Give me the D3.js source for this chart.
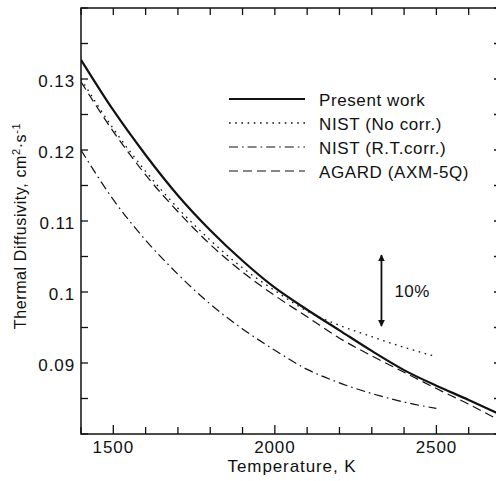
<!DOCTYPE html>
<html>
<head>
<meta charset="utf-8">
<script src="https://cdn.jsdelivr.net/npm/d3@7"></script>
<style>
	body { margin: 0; background: #fff; }
	text { font-family: "Liberation Sans", Arial, sans-serif; fill: #111; }
</style>
</head>
<body>
<svg id="chart" width="496" height="481"></svg>
<script>
'use strict';

// temperatures (K) shared by the curves
var temps = [1400, 1500, 1600, 1700, 1800, 1900, 2000, 2100, 2200, 2300, 2400, 2500, 2600, 2700];
var nistTemps = [1400, 1500, 1600, 1700, 1800, 1900, 2000, 2100, 2200, 2300, 2400, 2500];

// thermal diffusivity, cm2/s
var presentWork = [0.1327, 0.1256, 0.1193, 0.1136, 0.1087, 0.1044, 0.1006, 0.0975, 0.0946, 0.0917, 0.0890, 0.0868, 0.0848, 0.0827];
var agard       = [0.1296, 0.1226, 0.1165, 0.1113, 0.1067, 0.1028, 0.0995, 0.0965, 0.0935, 0.0910, 0.0887, 0.0864, 0.0842, 0.0818];
var nistNoCorr  = [0.1300, 0.1230, 0.1170, 0.1118, 0.1073, 0.1034, 0.1002, 0.0973, 0.0953, 0.0937, 0.0922, 0.0909];
var nistRTCorr  = [0.1200, 0.1130, 0.1073, 0.1025, 0.0983, 0.0948, 0.0918, 0.0891, 0.0872, 0.0857, 0.0845, 0.0836];

var xTicks = [1500, 2000, 2500];
var yTicks = [0.09, 0.1, 0.11, 0.12, 0.13];
var legendNames = ['Present work', 'NIST (No corr.)', 'NIST (R.T.corr.)', 'AGARD (AXM-5Q)'];
var arrowT = 2330, arrowFrom = 0.0952, arrowTo = 0.1052;

var svg = d3.select('#chart');
var x = d3.scaleLinear().domain([1400, 2700]).range([81, 501]);
var y = d3.scaleLinear().domain([0.08, 0.14]).range([434, 8]);

var styles = [
	{ width: 2.2, dash: null },
	{ width: 1.3, dash: '1.6,4.6' },
	{ width: 1.2, dash: '9,4,1.6,4' },
	{ width: 1.2, dash: '9,5' }
];

var series = [
	{ t: temps, v: presentWork },
	{ t: nistTemps, v: nistNoCorr },
	{ t: nistTemps, v: nistRTCorr },
	{ t: temps, v: agard }
];

svg.append('defs').append('clipPath').attr('id', 'plotClip')
	.append('rect')
	.attr('x', x.range()[0]).attr('y', y.range()[1])
	.attr('width', x.range()[1] - x.range()[0])
	.attr('height', y.range()[0] - y.range()[1]);

// frame
svg.append('rect')
	.attr('x', x.range()[0]).attr('y', y.range()[1])
	.attr('width', x.range()[1] - x.range()[0])
	.attr('height', y.range()[0] - y.range()[1])
	.attr('fill', 'none').attr('stroke', '#111').attr('stroke-width', 1.5);

// ticks, all pointing inward
var xMinor = d3.range(1400, 2701, 100);
var yMinor = d3.range(0.08, 0.1401, 0.005);
var tickG = svg.append('g').attr('stroke', '#111').attr('stroke-width', 1.3);
xMinor.forEach(function(t){
	var major = xTicks.indexOf(t) >= 0;
	tickG.append('line')
		.attr('x1', x(t)).attr('x2', x(t))
		.attr('y1', y.range()[0]).attr('y2', y.range()[0] - (major ? 9 : 7));
	tickG.append('line')
		.attr('x1', x(t)).attr('x2', x(t))
		.attr('y1', y.range()[1]).attr('y2', y.range()[1] + 7);
});
yMinor.forEach(function(v){
	tickG.append('line')
		.attr('x1', x.range()[0]).attr('x2', x.range()[0] + 7)
		.attr('y1', y(v)).attr('y2', y(v));
	tickG.append('line')
		.attr('x1', x.range()[1]).attr('x2', x.range()[1] - 7)
		.attr('y1', y(v)).attr('y2', y(v));
});

// tick labels
svg.append('g').selectAll('text')
	.data(xTicks).enter()
	.append('text')
		.attr('x', function(d){ return x(d); })
		.attr('y', 453)
		.attr('text-anchor', 'middle')
		.attr('font-size', 17)
		.attr('letter-spacing', 0.9)
		.text(function(d){ return d; });

svg.append('g').selectAll('text')
	.data(yTicks).enter()
	.append('text')
		.attr('x', 75)
		.attr('y', function(d){ return y(d) + 8; })
		.attr('text-anchor', 'end')
		.attr('font-size', 17)
		.attr('letter-spacing', 0.9)
		.text(function(d){ return d; });

// axis titles
svg.append('text')
	.attr('x', 292).attr('y', 472)
	.attr('text-anchor', 'middle')
	.attr('font-size', 17)
	.attr('letter-spacing', 0.9)
	.text('Temperature, K');

var yTitle = svg.append('text')
	.attr('transform', 'translate(26,226) rotate(-90)')
	.attr('text-anchor', 'middle')
	.attr('font-size', 16)
	.attr('letter-spacing', 0.6);
yTitle.append('tspan').text('Thermal Diffusivity, cm');
yTitle.append('tspan').attr('dy', -6).attr('font-size', 11).text('2');
yTitle.append('tspan').attr('dy', 6).text('\u00B7s');
yTitle.append('tspan').attr('dy', -6).attr('font-size', 11).text('-1');

// curves
var line = d3.line()
	.x(function(d){ return x(d[0]); })
	.y(function(d){ return y(d[1]); })
	.curve(d3.curveMonotoneX);

var curves = svg.append('g').attr('clip-path', 'url(#plotClip)');
series.forEach(function(s, i){
	var pts = s.t.map(function(t, j){ return [t, s.v[j]]; });
	curves.append('path')
		.attr('d', line(pts))
		.attr('fill', 'none')
		.attr('stroke', '#111')
		.attr('stroke-width', styles[i].width)
		.attr('stroke-dasharray', styles[i].dash);
});

// legend
var legend = svg.append('g');
legendNames.forEach(function(name, i){
	var ly = 99 + i * 24;
	legend.append('line')
		.attr('x1', 229).attr('x2', 305)
		.attr('y1', ly).attr('y2', ly)
		.attr('stroke', '#111')
		.attr('stroke-width', styles[i].width)
		.attr('stroke-dasharray', styles[i].dash);
	legend.append('text')
		.attr('x', 319).attr('y', ly + 7)
		.attr('font-size', 17)
		.attr('letter-spacing', 0.6)
		.text(name);
});

// 10% arrow
var defs = svg.select('defs');
defs.append('marker')
	.attr('id', 'head')
	.attr('viewBox', '0 0 10 10')
	.attr('refX', 9).attr('refY', 5)
	.attr('markerWidth', 7).attr('markerHeight', 9)
	.attr('markerUnits', 'userSpaceOnUse')
	.attr('orient', 'auto-start-reverse')
	.append('path').attr('d', 'M0,0 L10,5 L0,10 Z').attr('fill', '#111');

svg.append('line')
	.attr('x1', x(arrowT)).attr('x2', x(arrowT))
	.attr('y1', y(arrowFrom)).attr('y2', y(arrowTo))
	.attr('stroke', '#111').attr('stroke-width', 1.8)
	.attr('marker-start', 'url(#head)')
	.attr('marker-end', 'url(#head)');

svg.append('text')
	.attr('x', x(arrowT) + 13)
	.attr('y', y((arrowFrom + arrowTo) / 2) + 6)
	.attr('font-size', 17)
	.attr('letter-spacing', 0.4)
	.text('10%');
</script>
</body>
</html>
